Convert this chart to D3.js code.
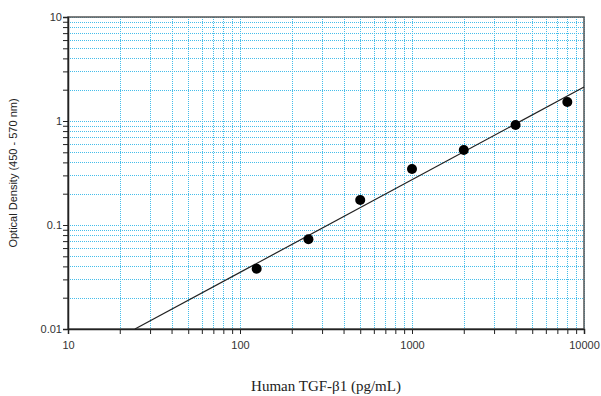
<!DOCTYPE html>
<html>
<head>
<meta charset="utf-8">
<script src="https://cdn.jsdelivr.net/npm/d3@7"></script>
<style>
  body { margin: 0; background: #fff; }
  svg { display: block; }
</style>
</head>
<body>
<div id="chart"></div>
<script>
// standard curve points
const conc = [125, 250, 500, 1000, 2000, 4000, 8000];
const od = [0.038, 0.073, 0.174, 0.345, 0.526, 0.916, 1.52];

// fitted line endpoints (log-log)
const fitX = [24.5, 10000];
const fitY = [0.01, 2.12];

const xTicks = [10, 100, 1000, 10000];
const yTicks = [0.01, 0.1, 1, 10];

const W = 601, H = 396;
const m = { left: 68, top: 17, right: 584, bottom: 329 };

const svg = d3.select('#chart')
  .append('svg')
  .attr('width', W)
  .attr('height', H);

const x = d3.scaleLog().domain([10, 10000]).range([m.left, m.right]);
const y = d3.scaleLog().domain([0.01, 10]).range([m.bottom, m.top]);

// every 1..9 step in each decade
const xAll = x.ticks();
const yAll = y.ticks();

const gridColor = '#45bdea';
const snap = v => Math.round(v) + 0.5;

svg.append('g')
  .selectAll('line')
  .data(xAll)
  .enter()
  .append('line')
    .attr('x1', d => snap(x(d))).attr('x2', d => snap(x(d)))
    .attr('y1', m.top).attr('y2', m.bottom)
    .attr('stroke', gridColor)
    .attr('stroke-width', 1)
    .attr('stroke-dasharray', '1,1')
    ;

svg.append('g')
  .selectAll('line')
  .data(yAll)
  .enter()
  .append('line')
    .attr('y1', d => snap(y(d))).attr('y2', d => snap(y(d)))
    .attr('x1', m.left).attr('x2', m.right)
    .attr('stroke', gridColor)
    .attr('stroke-width', 1)
    .attr('stroke-dasharray', '1,1')
    ;

// frame
svg.append('rect')
  .attr('x', m.left).attr('y', m.top)
  .attr('width', m.right - m.left).attr('height', m.bottom - m.top)
  .attr('fill', 'none')
  .attr('stroke', '#555')
  .attr('stroke-width', 1.5)
  ;

// axes
const xAxis = d3.axisBottom(x)
  .tickValues(xAll)
  .tickSize(5)
  .tickFormat(d => xTicks.includes(d) ? d : '');

const yAxis = d3.axisLeft(y)
  .tickValues(yAll)
  .tickSize(5)
  .tickFormat(d => yTicks.includes(d) ? d : '');

const gx = svg.append('g')
  .attr('transform', `translate(0,${m.bottom})`)
  .call(xAxis);

const gy = svg.append('g')
  .attr('transform', `translate(${m.left},0)`)
  .call(yAxis);

[gx, gy].forEach(g => {
  g.select('.domain').attr('stroke', '#222').attr('stroke-width', 1.5);
  g.selectAll('.tick line').attr('stroke', '#222');
  g.selectAll('.tick text')
    .attr('font-family', 'Liberation Sans, Arial, sans-serif')
    .attr('font-size', 11)
    .attr('fill', '#333');
});
gx.selectAll('.tick text').attr('dy', '1.1em');
gy.selectAll('.tick text').attr('x', -6);

// fitted line
svg.append('path')
  .datum(fitX.map((d, i) => [d, fitY[i]]))
  .attr('fill', 'none')
  .attr('stroke', '#222')
  .attr('stroke-width', 1.2)
  .attr('d', d3.line().x(d => x(d[0])).y(d => y(d[1])))
  ;

// points
svg.append('g')
  .selectAll('circle')
  .data(conc)
  .enter()
  .append('circle')
    .attr('cx', d => x(d))
    .attr('cy', (d, i) => y(od[i]))
    .attr('r', 5)
    .attr('fill', '#000')
    ;

// axis titles
svg.append('text')
  .attr('x', 326).attr('y', 391)
  .attr('text-anchor', 'middle')
  .attr('font-family', 'Liberation Serif, Times New Roman, serif')
  .attr('font-size', 15)
  .attr('fill', '#222')
  .text('Human TGF-β1 (pg/mL)');

svg.append('text')
  .attr('transform', 'translate(17,173) rotate(-90)')
  .attr('text-anchor', 'middle')
  .attr('font-family', 'Liberation Sans, Arial, sans-serif')
  .attr('font-size', 11)
  .attr('fill', '#222')
  .text('Optical Density (450 - 570 nm)');
</script>
</body>
</html>
